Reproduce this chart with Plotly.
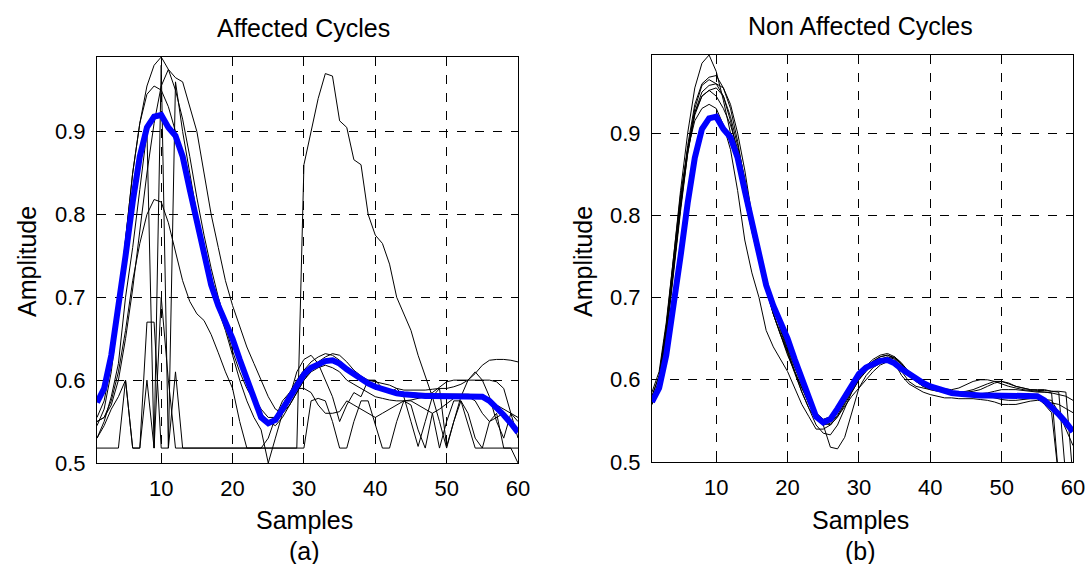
import plotly.graph_objects as go

# samples 1..60
samples = list(range(1, 61))

# mean template (blue), same on both panels
template = [0.573, 0.59, 0.63, 0.685, 0.75, 0.815, 0.87, 0.905, 0.918, 0.92,
            0.905, 0.895, 0.87, 0.83, 0.79, 0.75, 0.715, 0.69, 0.67, 0.65,
            0.625, 0.60, 0.575, 0.555, 0.548, 0.552, 0.565, 0.58, 0.595, 0.607,
            0.615, 0.62, 0.623, 0.624, 0.62, 0.613, 0.607, 0.60, 0.596, 0.592,
            0.589, 0.586, 0.584, 0.583, 0.582, 0.582, 0.581, 0.581, 0.581, 0.581,
            0.581, 0.581, 0.581, 0.581, 0.58, 0.575, 0.567, 0.558, 0.548, 0.537]

# affected cycles (a)
aff_1 = [0.555, 0.575, 0.62, 0.69, 0.77, 0.85, 0.91, 0.955, 0.98, 0.99,
         0.975, 0.95, 0.915, 0.87, 0.82, 0.775, 0.735, 0.70, 0.67, 0.645,
         0.62, 0.60, 0.58, 0.565, 0.555, 0.555, 0.57, 0.585, 0.60, 0.612,
         0.622, 0.628, 0.632, 0.63, 0.624, 0.615, 0.607, 0.60, 0.595, 0.592,
         0.59, 0.588, 0.586, 0.585, 0.585, 0.584, 0.584, 0.584, 0.583, 0.583,
         0.583, 0.583, 0.583, 0.582, 0.58, 0.575, 0.57, 0.565, 0.56, 0.555]
aff_2 = [0.55, 0.555, 0.57, 0.60, 0.65, 0.71, 0.78, 0.85, 0.91, 0.955,
         0.975, 0.965, 0.96, 0.93, 0.90, 0.85, 0.80, 0.76, 0.72, 0.69,
         0.665, 0.64, 0.62, 0.60, 0.58, 0.565, 0.56, 0.57, 0.585, 0.60,
         0.612, 0.622, 0.628, 0.632, 0.63, 0.622, 0.612, 0.605, 0.60, 0.598,
         0.596, 0.594, 0.59, 0.588, 0.588, 0.588, 0.588, 0.589, 0.59, 0.59,
         0.592, 0.595, 0.60, 0.608, 0.618, 0.624, 0.625, 0.625, 0.624, 0.622]
aff_3 = [0.545, 0.565, 0.61, 0.68, 0.77, 0.85, 0.91, 0.945, 0.955, 0.95,
         0.93, 0.90, 0.87, 0.835, 0.80, 0.76, 0.725, 0.695, 0.665, 0.635,
         0.61, 0.59, 0.575, 0.56, 0.55, 0.545, 0.555, 0.57, 0.585, 0.60,
         0.61, 0.615, 0.618, 0.615, 0.61, 0.60, 0.595, 0.59, 0.585, 0.58,
         0.578, 0.576, 0.575, 0.575, 0.576, 0.578, 0.58, 0.585, 0.592, 0.598,
         0.60, 0.60, 0.60, 0.60, 0.60, 0.60, 0.598, 0.59, 0.56, 0.53]
aff_4 = [0.55, 0.555, 0.575, 0.61, 0.66, 0.72, 0.765, 0.80, 0.818, 0.815,
         0.79, 0.755, 0.72, 0.695, 0.68, 0.672, 0.655, 0.633, 0.61, 0.59,
         0.55, 0.518, 0.518, 0.518, 0.53, 0.555, 0.575, 0.585, 0.59, 0.59,
         0.585, 0.57, 0.56, 0.56, 0.562, 0.575, 0.57, 0.565, 0.56, 0.555,
         0.56, 0.565, 0.57, 0.575, 0.575, 0.57, 0.565, 0.56, 0.565, 0.572,
         0.578, 0.582, 0.58, 0.575, 0.56, 0.55, 0.555, 0.56, 0.55, 0.54]
aff_5 = [0.518, 0.518, 0.518, 0.518, 0.60, 0.518, 0.518, 0.67, 0.67, 0.518,
         0.518, 0.61, 0.518, 0.518, 0.518, 0.518, 0.518, 0.518, 0.518, 0.518,
         0.518, 0.518, 0.518, 0.518, 0.518, 0.518, 0.518, 0.518, 0.518, 0.86,
         0.90, 0.94, 0.97, 0.967, 0.913, 0.905, 0.866, 0.86, 0.80, 0.775,
         0.765, 0.74, 0.70, 0.68, 0.66, 0.63, 0.605, 0.58, 0.55, 0.518,
         0.55, 0.575, 0.56, 0.53, 0.518, 0.518, 0.518, 0.518, 0.518, 0.518]
aff_6 = [0.53, 0.55, 0.58, 0.62, 0.70, 0.76, 0.83, 0.90, 0.518, 0.98,
         0.518, 0.96, 0.90, 0.85, 0.80, 0.76, 0.72, 0.685, 0.66, 0.63,
         0.60, 0.575, 0.555, 0.54, 0.50, 0.53, 0.56, 0.58, 0.61, 0.625,
         0.63, 0.62, 0.60, 0.58, 0.55, 0.57, 0.585, 0.58, 0.60, 0.60,
         0.59, 0.585, 0.59, 0.58, 0.55, 0.52, 0.55, 0.58, 0.59, 0.52,
         0.55, 0.58, 0.60, 0.61, 0.60, 0.58, 0.55, 0.53, 0.56, 0.55]
aff_7 = [0.53, 0.545, 0.565, 0.58, 0.60, 0.518, 0.518, 0.60, 0.518, 0.70,
         0.60, 0.518, 0.518, 0.518, 0.518, 0.518, 0.518, 0.518, 0.518, 0.518,
         0.518, 0.518, 0.518, 0.518, 0.518, 0.518, 0.518, 0.518, 0.518, 0.518,
         0.575, 0.578, 0.575, 0.55, 0.518, 0.518, 0.55, 0.575, 0.575, 0.545,
         0.518, 0.518, 0.55, 0.575, 0.57, 0.54, 0.518, 0.56, 0.518, 0.55,
         0.575, 0.575, 0.545, 0.518, 0.518, 0.55, 0.56, 0.518, 0.518, 0.50]

# non affected cycles (b)
non_1 = [0.58, 0.605, 0.665, 0.75, 0.83, 0.90, 0.955, 0.985, 0.995, 0.975,
         0.94, 0.90, 0.86, 0.82, 0.78, 0.745, 0.71, 0.68, 0.655, 0.63,
         0.61, 0.59, 0.575, 0.56, 0.548, 0.545, 0.555, 0.57, 0.585, 0.60,
         0.61, 0.62, 0.625, 0.628, 0.625, 0.615, 0.605, 0.598, 0.592, 0.588,
         0.586, 0.585, 0.585, 0.584, 0.584, 0.583, 0.583, 0.582, 0.582, 0.582,
         0.582, 0.582, 0.582, 0.58, 0.578, 0.57, 0.56, 0.48, 0.48, 0.48]
non_2 = [0.575, 0.60, 0.66, 0.74, 0.815, 0.885, 0.935, 0.96, 0.968, 0.97,
         0.955, 0.93, 0.89, 0.84, 0.79, 0.75, 0.72, 0.69, 0.665, 0.64,
         0.615, 0.595, 0.575, 0.56, 0.552, 0.555, 0.565, 0.58, 0.595, 0.607,
         0.617, 0.625, 0.63, 0.632, 0.628, 0.62, 0.61, 0.602, 0.597, 0.594,
         0.59, 0.588, 0.586, 0.585, 0.586, 0.588, 0.592, 0.595, 0.598, 0.598,
         0.595, 0.592, 0.59, 0.588, 0.588, 0.588, 0.586, 0.585, 0.48, 0.48]
non_3 = [0.57, 0.595, 0.65, 0.73, 0.805, 0.875, 0.925, 0.95, 0.958, 0.96,
         0.955, 0.935, 0.90, 0.855, 0.80, 0.755, 0.715, 0.68, 0.655, 0.635,
         0.61, 0.585, 0.565, 0.545, 0.535, 0.533, 0.545, 0.565, 0.585, 0.60,
         0.612, 0.62, 0.625, 0.626, 0.622, 0.61, 0.598, 0.592, 0.59, 0.588,
         0.587, 0.586, 0.585, 0.585, 0.585, 0.586, 0.588, 0.592, 0.596, 0.598,
         0.596, 0.592, 0.59, 0.588, 0.587, 0.587, 0.586, 0.586, 0.585, 0.48]
non_4 = [0.58, 0.605, 0.665, 0.745, 0.82, 0.88, 0.925, 0.945, 0.952, 0.945,
         0.93, 0.91, 0.88, 0.84, 0.80, 0.76, 0.725, 0.69, 0.66, 0.635,
         0.61, 0.59, 0.57, 0.555, 0.545, 0.518, 0.516, 0.53, 0.56, 0.59,
         0.605, 0.615, 0.62, 0.625, 0.628, 0.62, 0.607, 0.598, 0.592, 0.59,
         0.588, 0.587, 0.586, 0.585, 0.584, 0.583, 0.582, 0.58, 0.578, 0.576,
         0.575, 0.575, 0.576, 0.577, 0.577, 0.576, 0.575, 0.56, 0.54, 0.52]
non_5 = [0.585, 0.61, 0.67, 0.75, 0.825, 0.88, 0.915, 0.93, 0.935, 0.93,
         0.91, 0.88, 0.83, 0.77, 0.73, 0.70, 0.66, 0.64, 0.625, 0.61,
         0.59, 0.57, 0.555, 0.54, 0.54, 0.545, 0.555, 0.568, 0.58, 0.59,
         0.60, 0.61, 0.618, 0.622, 0.62, 0.605, 0.595, 0.59, 0.585, 0.582,
         0.58, 0.578, 0.578, 0.577, 0.577, 0.577, 0.576, 0.575, 0.573, 0.57,
         0.57, 0.57, 0.572, 0.574, 0.575, 0.574, 0.572, 0.57, 0.565, 0.56]
non_6 = [0.57, 0.595, 0.655, 0.735, 0.81, 0.88, 0.93, 0.958, 0.965, 0.96,
         0.945, 0.915, 0.875, 0.83, 0.785, 0.745, 0.71, 0.68, 0.655, 0.632,
         0.608, 0.585, 0.565, 0.552, 0.545, 0.547, 0.557, 0.572, 0.588, 0.602,
         0.614, 0.623, 0.628, 0.63, 0.626, 0.618, 0.608, 0.60, 0.595, 0.592,
         0.59, 0.589, 0.588, 0.59, 0.594, 0.598, 0.60, 0.60, 0.598, 0.595,
         0.592, 0.59, 0.588, 0.587, 0.586, 0.585, 0.584, 0.48, 0.48, 0.48]
non_7 = [0.575, 0.598, 0.655, 0.735, 0.81, 0.875, 0.922, 0.945, 0.952, 0.955,
         0.945, 0.92, 0.885, 0.845, 0.80, 0.76, 0.72, 0.69, 0.662, 0.638,
         0.615, 0.593, 0.572, 0.555, 0.548, 0.55, 0.56, 0.575, 0.59, 0.603,
         0.614, 0.622, 0.628, 0.63, 0.627, 0.618, 0.608, 0.60, 0.594, 0.59,
         0.588, 0.586, 0.585, 0.584, 0.584, 0.583, 0.583, 0.584, 0.586, 0.588,
         0.588, 0.588, 0.587, 0.586, 0.585, 0.585, 0.584, 0.582, 0.58, 0.575]

affected = [aff_1, aff_2, aff_3, aff_4, aff_5, aff_6, aff_7]
non_affected = [non_1, non_2, non_3, non_4, non_5, non_6, non_7]

fnt = "Liberation Sans, Arial, sans-serif"

fig = go.Figure()

for cyc in affected:
    fig.add_trace(go.Scatter(x=samples, y=cyc, mode="lines",
                             line=dict(color="black", width=1),
                             xaxis="x", yaxis="y", showlegend=False))
fig.add_trace(go.Scatter(x=samples, y=template, mode="lines",
                         line=dict(color="#0000ff", width=6),
                         xaxis="x", yaxis="y", showlegend=False))

for cyc in non_affected:
    fig.add_trace(go.Scatter(x=samples, y=cyc, mode="lines",
                             line=dict(color="black", width=1),
                             xaxis="x2", yaxis="y2", showlegend=False))
fig.add_trace(go.Scatter(x=samples, y=template, mode="lines",
                         line=dict(color="#0000ff", width=6),
                         xaxis="x2", yaxis="y2", showlegend=False))

xax = dict(range=[1, 60], tickvals=[10, 20, 30, 40, 50, 60],
           showline=True, linecolor="black", linewidth=1, mirror="ticks",
           ticks="inside", ticklen=5, tickcolor="black", ticklabelstandoff=6,
           showgrid=True, gridcolor="black", griddash="dash", gridwidth=1,
           zeroline=False, tickfont=dict(family=fnt, size=22, color="black"))
yax = dict(tickvals=[0.5, 0.6, 0.7, 0.8, 0.9], ticktext=["0.5", "0.6", "0.7", "0.8", "0.9"],
           showline=True, linecolor="black", linewidth=1, mirror="ticks",
           ticks="inside", ticklen=5, tickcolor="black", ticklabelstandoff=6,
           showgrid=True, gridcolor="black", griddash="dash", gridwidth=1,
           zeroline=False, tickfont=dict(family=fnt, size=22, color="black"))

fig.update_layout(
    width=1088, height=564,
    margin=dict(l=0, r=0, t=0, b=0, autoexpand=False),
    paper_bgcolor="white", plot_bgcolor="white",
    xaxis=dict(xax, domain=[97 / 1088, 518 / 1088], anchor="y"),
    yaxis=dict(yax, domain=[1 - 463 / 564, 1 - 57 / 564], range=[0.5, 0.99], anchor="x"),
    xaxis2=dict(xax, domain=[652 / 1088, 1073 / 1088], anchor="y2"),
    yaxis2=dict(yax, domain=[1 - 462 / 564, 1 - 55 / 564], range=[0.5, 0.995], anchor="x2"),
)

texts = [
    ("Affected Cycles", 303, 28, 0),
    ("Non Affected Cycles", 860, 26, 0),
    ("Samples", 304, 520, 0),
    ("(a)", 304, 551, 0),
    ("Samples", 860, 520, 0),
    ("(b)", 860, 551, 0),
    ("Amplitude", 27, 262, -90),
    ("Amplitude", 583, 262, -90),
]
for txt, px, py, ang in texts:
    fig.add_annotation(text=txt, x=px / 1088, y=1 - py / 564, xref="paper", yref="paper",
                       showarrow=False, textangle=ang, xanchor="center", yanchor="middle",
                       font=dict(family=fnt, size=25, color="black"))

# page body has a default margin; drop it so the figure sits at the window corner
fig.write_html("out.html", config={"displayModeBar": False},
               post_script="document.body.style.margin='0px';")
